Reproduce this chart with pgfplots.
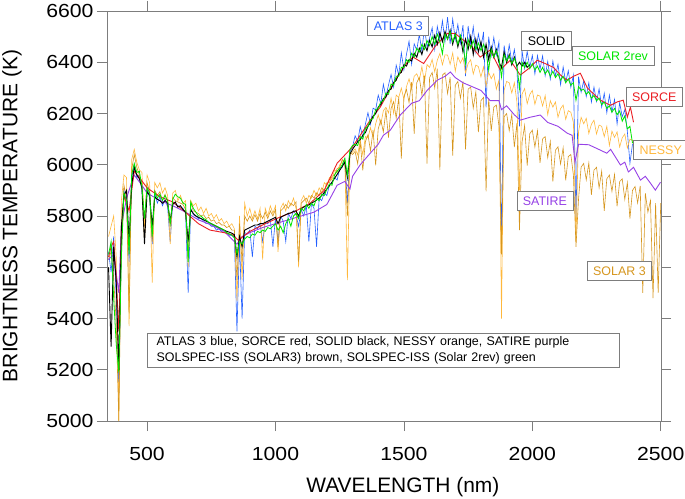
\documentclass[border=0pt]{standalone}
\usepackage{fontspec}
\setmainfont{Liberation Sans}
\newfontfamily\tickfont[FakeStretch=1.12]{Liberation Sans}
\usepackage{pgfplots}
\usepackage{pgfplotstable}
\pgfplotsset{compat=1.18}

\definecolor{atlas}{RGB}{35,95,255}
\definecolor{sorce}{RGB}{235,30,35}
\definecolor{nessy}{RGB}{255,184,60}
\definecolor{satire}{RGB}{150,65,230}
\definecolor{solar3}{RGB}{214,150,30}
\definecolor{solar2}{RGB}{0,230,0}
\definecolor{frame}{RGB}{125,125,125}

% x = wavelength (nm); A = ATLAS 3, N = NESSY, S = SOLAR 3, K = SOLID, G = SOLAR 2rev
\pgfplotstableread{
x A N S K G
350 5660 5720 5630 5600 5650
360 5580 5760 5660 5290 5700
370 5720 5800 5560 5680 5480
380 5480 5640 5380 5540 5300
390 5100 5000 5000 5200 5190
400 5700 5860 5720 5760 5640
410 5900 5960 5920 5880 5890
420 5850 5950 5870 5900 5860
430 5620 5370 5420 5700 5650
440 5950 6020 5980 5920 5960
450 6000 6060 6040 5990 6005
460 5950 6010 5990 5960 5970
470 5960 5980 5960 5945 5975
480 5900 5970 5930 5910 5915
490 5770 5760 5700 5690 5790
500 5910 5960 5930 5895 5910
510 5870 5930 5895 5880 5890
520 5690 5540 5700 5760 5720
530 5890 5930 5900 5875 5895
540 5850 5910 5880 5865 5870
550 5875 5930 5895 5860 5885
560 5840 5890 5860 5850 5860
570 5865 5910 5885 5860 5880
580 5835 5880 5855 5850 5860
590 5700 5690 5760 5780 5770
600 5855 5890 5870 5845 5865
610 5845 5900 5860 5855 5885
620 5840 5860 5855 5835 5875
630 5835 5880 5850 5840 5870
640 5830 5850 5845 5825 5850
650 5810 5860 5825 5815 5845
660 5500 5600 5650 5700 5620
670 5830 5860 5850 5825 5855
680 5805 5840 5820 5810 5830
690 5800 5850 5815 5800 5815
700 5790 5820 5810 5795 5800
710 5790 5835 5800 5790 5800
720 5780 5810 5805 5785 5790
730 5770 5830 5790 5780 5785
740 5770 5800 5795 5775 5775
750 5760 5810 5780 5770 5770
760 5760 5790 5785 5765 5765
770 5745 5805 5770 5760 5760
780 5750 5780 5775 5755 5755
790 5740 5790 5765 5750 5750
800 5735 5770 5765 5745 5745
810 5735 5780 5755 5740 5735
820 5725 5760 5760 5737 5730
830 5725 5770 5745 5733 5725
840 5715 5750 5745 5727 5715
850 5350 5470 5550 5640 5650
860 5700 5800 5770 5720 5700
870 5400 5550 5620 5680 5690
880 5735 5850 5800 5745 5710
890 5730 5800 5780 5750 5720
900 5745 5830 5800 5755 5715
910 5640 5790 5780 5760 5730
920 5760 5820 5805 5765 5725
930 5750 5790 5780 5765 5740
940 5770 5830 5810 5770 5735
950 5700 5630 5790 5770 5745
960 5775 5830 5815 5775 5740
970 5770 5800 5790 5780 5755
980 5785 5840 5820 5785 5750
990 5680 5810 5800 5790 5760
1000 5795 5840 5825 5795 5770
1010 5700 5660 5680 5770 5745
1020 5800 5830 5820 5795 5760
1030 5780 5850 5830 5800 5735
1040 5700 5820 5845 5805 5770
1050 5810 5860 5830 5810 5790
1060 5790 5840 5850 5812 5760
1070 5820 5870 5840 5818 5800
1080 5805 5830 5855 5820 5810
1090 5760 5600 5620 5800 5790
1100 5825 5860 5850 5828 5830
1110 5800 5880 5860 5835 5820
1120 5840 5850 5870 5840 5845
1130 5700 5880 5850 5843 5830
1140 5850 5870 5880 5850 5850
1150 5830 5900 5870 5856 5840
1160 5680 5880 5890 5862 5870
1170 5870 5910 5880 5870 5860
1180 5860 5890 5910 5880 5885
1190 5890 5930 5900 5892 5880
1200 5880 5920 5930 5905 5905
1210 5920 5950 5930 5918 5925
1220 5930 5940 5955 5932 5920
1230 5950 5980 5960 5947 5960
1240 5940 5970 5985 5962 5975
1250 5985 6000 5990 5978 5985
1260 5990 6010 6020 5994 6000
1270 6020 6020 6010 6010 6025
1280 5850 5550 5800 5950 5960
1290 6050 6040 6050 6042 6060
1300 6070 6050 6040 6060 6075
1310 6113 6062 6052 6075 6080
1320 6091 6039 6004 6090 6075
1330 6149 6096 6086 6098 6110
1340 6107 6038 5978 6115 6100
1350 6158 6110 6090 6125 6140
1360 6203 6105 6117 6150 6150
1370 6158 6145 6054 6165 6175
1380 6221 6105 6136 6190 6180
1390 6214 6160 5998 6200 6215
1400 6272 6195 6140 6225 6220
1410 6238 6158 6174 6235 6245
1420 6314 6211 6128 6258 6250
1430 6265 6224 6212 6265 6280
1440 6311 6202 6106 6290 6275
1450 6352 6260 6220 6295 6315
1460 6303 6201 6246 6320 6310
1470 6389 6272 6182 6330 6345
1480 6350 6263 6263 6355 6345
1490 6437 6299 6024 6360 6380
1500 6370 6255 6265 6390 6380
1510 6431 6305 6294 6385 6410
1520 6482 6335 6243 6410 6400
1530 6392 6295 6322 6405 6435
1540 6472 6345 6121 6435 6420
1550 6447 6355 6320 6420 6455
1560 6509 6329 6341 6455 6440
1570 6441 6383 6272 6430 6470
1580 6538 6322 6348 6470 6450
1590 6459 6391 6004 6445 6485
1600 6495 6380 6340 6485 6465
1610 6535 6411 6360 6460 6500
1620 6450 6362 6300 6505 6470
1630 6540 6408 6375 6470 6510
1640 6489 6434 5980 6515 6480
1650 6562 6390 6350 6480 6433
1660 6480 6429 6359 6520 6510
1670 6576 6428 6278 6490 6490
1680 6471 6392 6342 6525 6520
1690 6569 6436 6036 6470 6480
1700 6487 6365 6310 6510 6510
1710 6548 6421 6325 6460 6470
1720 6474 6397 6260 6500 6505
1730 6545 6418 6325 6440 6470
1740 6346 6359 6060 6490 6395
1750 6542 6395 6295 6450 6490
1760 6468 6410 6303 6500 6455
1770 6539 6354 6221 6430 6485
1780 6440 6389 6284 6490 6450
1790 6511 6383 6127 6440 6475
1800 6457 6343 6250 6480 6445
1810 6518 6382 6263 6420 6470
1820 6224 6307 5896 6470 6440
1830 6500 6361 6259 6410 6369
1840 6426 6336 6132 6460 6450
1850 6497 6355 6225 6420 6420
1860 6428 6295 6233 6450 6445
1870 6479 6330 6151 6400 6415
1880 5680 5400 5650 6380 6342
1890 6466 6290 6187 6440 6430
1900 6402 6325 6200 6400 6405
1910 6468 6320 6133 6430 6425
1920 6399 6280 6196 6390 6395
1930 6450 6320 6069 6420 6415
1940 6376 6245 6162 6385 6390
1950 6150 5900 5745 6400 6297
1960 6444 6276 6089 6385 6400
1970 6376 6297 6153 6400 6380
1980 6443 6238 5997 6380 6400
1990 6380 6274 6121 6390 6375
2000 6427 6290 6135 nan 6395
2010 6354 6236 6069 nan 6370
2020 6426 6272 6133 nan 6385
2030 6373 6268 6007 nan 6360
2040 6425 6229 6101 nan 6380
2050 6347 6270 6110 nan 6355
2060 6403 6195 6028 nan 6370
2070 6334 6250 6091 nan 6345
2080 6405 6225 5934 nan 6365
2090 6346 6245 6057 nan 6340
2100 6392 6185 6070 nan 6355
2110 6312 6219 6003 nan 6330
2120 6382 6233 6066 nan 6345
2130 6322 6177 5939 nan 6320
2140 6367 6211 6032 nan 6335
2150 6302 6205 6040 nan 6310
2160 6351 6165 5959 nan 6320
2170 5780 5700 5680 nan 6252
2180 6344 6130 5867 nan 6305
2190 6283 6185 5991 nan 6290
2200 6327 6160 6005 nan 6295
2210 6266 6181 5941 nan 6275
2220 6320 6122 6007 nan 6285
2230 6244 6158 5883 nan 6260
2240 6303 6174 5979 nan 6270
2250 6247 6120 5990 nan 6250
2260 6296 6155 5910 nan 6260
2270 6225 6150 5975 nan 6235
2280 6279 6110 5820 nan 6245
2290 6203 6150 5945 nan 6220
2300 6272 6075 5960 nan 6230
2310 6206 6131 5896 nan 6205
2320 6255 6107 5962 nan 6220
2330 6159 6128 5838 nan 6195
2340 6243 6069 5934 nan 6210
2350 6187 6105 5945 nan 6170
2360 6215 6120 5865 nan 6190
2370 6130 6065 5930 nan 6140
2380 6006 6100 5790 nan 6150
2390 6080 6095 5900 nan 6084
2400 nan 6060 5915 nan nan
2410 nan nan 5851 nan nan
2420 nan nan 5917 nan nan
2430 nan nan 5500 nan nan
2440 nan nan 5889 nan nan
2450 nan nan 5815 nan nan
2460 nan nan 5860 nan nan
2470 nan nan 5480 nan nan
2480 nan nan 5850 nan nan
2490 nan nan 5500 nan nan
2500 nan nan 5850 nan nan
}\spectra

\begin{document}
\begin{tikzpicture}
\begin{axis}[
  scale only axis, width=554bp, height=410bp,
  xmin=344, xmax=2501, ymin=5000, ymax=6600,
  xtick={500,1000,1500,2000,2500},
  ytick={5000,5200,5400,5600,5800,6000,6200,6400,6600},
  tick align=outside, major tick length=10bp,
  xticklabel pos=bottom, yticklabel pos=left,
  axis line style={frame, line width=0.8bp},
  tick style={frame, line width=0.8bp},
  /pgf/number format/assume math mode=true,
  /pgf/number format/1000 sep={},
  ticklabel style={font=\tickfont\fontsize{19}{22}\selectfont, text=black},
  xticklabel style={yshift=-13bp},
  xlabel={WAVELENGTH (nm)}, ylabel={BRIGHTNESS TEMPERATURE (K)},
  label style={font=\fontsize{21}{24}\selectfont},
  xlabel style={at={(axis description cs:0.534,-0.161)}, anchor=center},
  ylabel style={at={(axis description cs:-0.1715,0.5)}, anchor=center},
  unbounded coords=jump,
]
\addplot[atlas, line width=0.6bp] table[x=x, y=A] {\spectra};
\addplot[nessy, line width=0.6bp] table[x=x, y=N] {\spectra};
\addplot[solar3, line width=0.6bp] table[x=x, y=S] {\spectra};
\addplot[satire, line width=0.9bp] coordinates {
(350,5630) (370,5650) (390,5500) (400,5760) (420,5870) (450,5960) (480,5920)
(500,5890) (550,5860) (600,5840) (650,5815) (700,5785) (750,5765) (800,5740)
(850,5690) (870,5720) (900,5735) (950,5755) (1000,5770) (1050,5785) (1100,5800)
(1150,5815) (1200,5845) (1240,5920) (1270,5935) (1290,5905) (1300,5955) (1330,6000)
(1369,6045) (1400,6080) (1420,6115) (1447,6135) (1486,6194) (1530,6240) (1560,6250)
(1591,6291) (1630,6330) (1660,6345) (1681,6362) (1700,6340) (1730,6320) (1770,6303)
(1800,6290) (1836,6250) (1870,6250) (1880,6215) (1900,6230) (1930,6195) (1953,6174)
(1990,6185) (2031,6194) (2060,6165) (2100,6150) (2136,6123) (2155,6115) (2166,6010)
(2180,6080) (2220,6078) (2265,6057) (2290,6045) (2305,6060) (2343,5999) (2360,6010)
(2374,5972) (2394,5990) (2421,5940) (2440,5955) (2460,5928) (2479,5901) (2499,5932)
};
\addplot[sorce, line width=0.9bp] coordinates {
(350,5640) (360,5680) (370,5700) (380,5560) (390,5350) (400,5720) (410,5880)
(430,5820) (450,5975) (470,5950) (500,5910) (550,5875) (600,5855) (640,5823)
(700,5770) (745,5745) (800,5735) (835,5726) (855,5705) (900,5740) (960,5770)
(1018,5796) (1080,5820) (1135,5850) (1190,5900) (1240,6006) (1300,6070) (1369,6174)
(1408,6225) (1460,6320) (1513,6400) (1536,6420) (1577,6395) (1620,6460) (1669,6513)
(1700,6512) (1731,6487) (1765,6460) (1797,6420) (1836,6448) (1875,6370) (1914,6408)
(1953,6350) (1992,6380) (2019,6408) (2050,6395) (2082,6380) (2110,6350) (2135,6330)
(2160,6345) (2187,6357) (2214,6300) (2240,6275) (2265,6252) (2304,6232) (2330,6245)
(2354,6252) (2370,6186) (2382,6225) (2394,6166)
};
\addplot[black, line width=0.9bp] table[x=x, y=K] {\spectra};
\addplot[solar2, line width=0.8bp] table[x=x, y=G] {\spectra};
\coordinate (SW) at (rel axis cs:0,0);
\coordinate (NE) at (rel axis cs:1,1);
\coordinate (cAtlas) at (1478,6542);
\coordinate (cSolid) at (2055,6482);
\coordinate (cSolar2) at (2314,6424);
\coordinate (cSorce) at (2475,6264);
\coordinate (cNessy) at (2500,6057);
\coordinate (cSatire) at (2049,5859);
\coordinate (cSolar3) at (2339,5586);
\coordinate (cLeg) at (1421,5276);
\end{axis}
\tikzset{lab/.style={draw=frame, fill=white, line width=0.7bp, inner xsep=6bp,
  inner ysep=5bp, text height=9bp, text depth=0bp, font=\fontsize{12.5}{15}\selectfont}}
\node[lab, text=atlas] at (cAtlas) {ATLAS 3};
\node[lab, text=black] at (cSolid) {SOLID};
\node[lab, text=solar2] at (cSolar2) {SOLAR 2rev};
\node[lab, text=sorce] at (cSorce) {SORCE};
\node[lab, text=nessy] at (cNessy) {NESSY};
\node[lab, text=satire] at (cSatire) {SATIRE};
\node[lab, text=solar3] at (cSolar3) {SOLAR 3};
\node[draw=frame, fill=white, line width=0.7bp, align=left, inner xsep=9bp,
  inner ysep=3bp, text width=454bp, font=\fontsize{12.5}{16.5}\selectfont] at (cLeg)
  {ATLAS 3 blue, SORCE red, SOLID black, NESSY orange, SATIRE purple\\
   SOLSPEC-ISS (SOLAR3) brown, SOLSPEC-ISS (Solar 2rev) green};
\pgfresetboundingbox
\path[use as bounding box] ([xshift=-107bp,yshift=-78bp]SW) rectangle ([xshift=24bp,yshift=11bp]NE);
\end{tikzpicture}
\end{document}
